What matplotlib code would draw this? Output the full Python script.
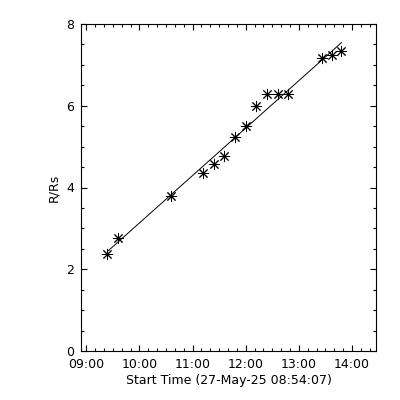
import matplotlib
matplotlib.use("Agg")
import matplotlib.pyplot as plt
import matplotlib.dates as mdates
import numpy as np
from datetime import datetime

times = ["09:24", "09:36", "10:36", "11:12", "11:24", "11:36", "11:48", "12:00",
         "12:12", "12:24", "12:36", "12:48", "13:26", "13:37", "13:48"]
heights = [2.38, 2.77, 3.80, 4.36, 4.58, 4.78, 5.24, 5.51,
           5.99, 6.29, 6.29, 6.29, 7.16, 7.24, 7.33]
x_start = "08:54:07"
x_end = "14:27:00"
xtick_labels = ["09:00", "10:00", "11:00", "12:00", "13:00", "14:00"]
date = "2025-05-27"

def to_dt(s):
    fmt = "%Y-%m-%d %H:%M:%S" if s.count(":") == 2 else "%Y-%m-%d %H:%M"
    return datetime.strptime(date + " " + s, fmt)

tx = np.array([mdates.date2num(to_dt(t)) for t in times])
hy = np.array(heights)

plt.rcParams['font.family'] = ['DejaVu Sans']
fig = plt.figure(figsize=(4, 4), dpi=100)
ax = fig.add_axes([0.2025, 0.1225, 0.7375, 0.8175])

# linear fit line
hours = (tx - tx[0]) * 24
p = np.polyfit(hours, hy, 1)
ax.plot(tx, np.polyval(p, hours), color='black', lw=0.7)

ax.plot(tx, hy, linestyle='none', marker=(8, 2, 0), markersize=8,
        markeredgewidth=0.7, color='black')

ax.set_xlim(mdates.date2num(to_dt(x_start)), mdates.date2num(to_dt(x_end)))
ax.set_ylim(0, 8)
ax.xaxis.set_major_locator(mdates.HourLocator())
ax.xaxis.set_minor_locator(mdates.MinuteLocator(byminute=[10, 20, 30, 40, 50]))
ax.xaxis.set_major_formatter(mdates.DateFormatter("%H:%M"))
ax.set_yticks([0, 2, 4, 6, 8])
ax.set_yticks(np.arange(0, 8.01, 0.5), minor=True)

ax.tick_params(which='both', direction='in', top=True, right=True,
               labelsize=9, width=0.8, colors='black')
ax.tick_params(which='major', length=4.5, pad=5)
ax.tick_params(which='minor', length=2.3)
for s in ax.spines.values():
    s.set_linewidth(0.8)

ax.set_xlabel("Start Time (27-May-25 08:54:07)", fontsize=9, labelpad=2)
ax.set_ylabel("R/Rs", fontsize=9, labelpad=4)

fig.savefig("out.png", dpi=100, facecolor='white')
